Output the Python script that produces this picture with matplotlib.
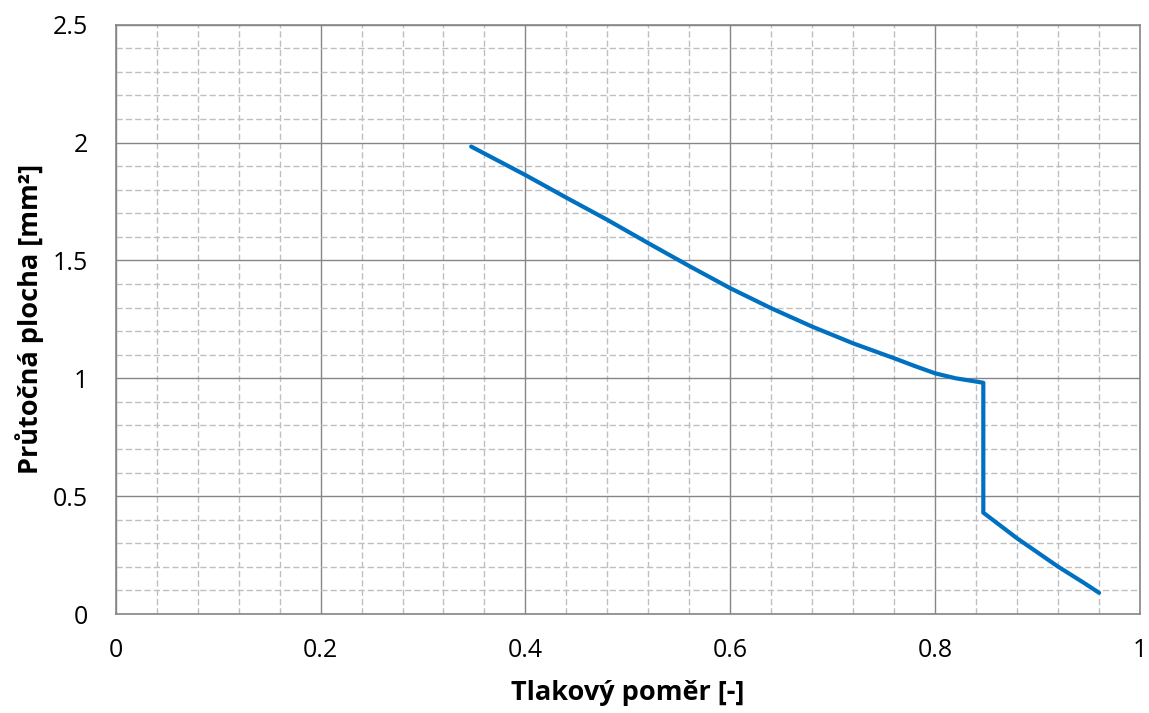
import matplotlib
matplotlib.use("Agg")
import matplotlib.pyplot as plt
from matplotlib.ticker import MultipleLocator

plt.rcParams["font.family"] = ["Open Sans", "DejaVu Sans"]
plt.rcParams["lines.scale_dashes"] = False

# Pressure ratio vs. flow area
pressure_ratio = [0.347, 0.40, 0.44, 0.48, 0.52, 0.56, 0.60, 0.64, 0.68, 0.72,
                  0.76, 0.78, 0.80, 0.82, 0.84, 0.847, 0.847, 0.88, 0.92, 0.946, 0.96]
flow_area = [1.983, 1.862, 1.766, 1.672, 1.573, 1.476, 1.382, 1.297, 1.219, 1.148,
             1.085, 1.052, 1.021, 1.000, 0.986, 0.981, 0.430, 0.321, 0.201, 0.130, 0.090]

x_label = "Tlakový poměr [-]"
y_label = "Průtočná plocha [mm²]"

fig = plt.figure(figsize=(11.49, 7.13), dpi=100)
ax = fig.add_axes([0.1007, 0.1388, 0.8915, 0.8266])

ax.plot(pressure_ratio, flow_area, color="#0070C0", lw=3.0,
        solid_capstyle="round", solid_joinstyle="round", zorder=3)

ax.set_xlim(0, 1)
ax.set_ylim(0, 2.5)
ax.xaxis.set_major_locator(MultipleLocator(0.2))
ax.xaxis.set_minor_locator(MultipleLocator(0.04))
ax.yaxis.set_major_locator(MultipleLocator(0.5))
ax.yaxis.set_minor_locator(MultipleLocator(0.1))

ax.grid(which="minor", color="#BFBFBF", lw=1.0, linestyle=(0, (4.5, 2.2)), zorder=1)
ax.grid(which="major", color="#868686", lw=1.0, linestyle="-", zorder=2)
ax.set_axisbelow(True)

for s in ax.spines.values():
    s.set_color("#868686")
    s.set_linewidth(1.2)

ax.tick_params(which="both", length=0)
ax.tick_params(axis="x", labelsize=18, pad=17)
ax.tick_params(axis="y", labelsize=18, pad=20)

def fmt(v, _):
    return f"{v:g}"
ax.xaxis.set_major_formatter(plt.FuncFormatter(fmt))
ax.yaxis.set_major_formatter(plt.FuncFormatter(fmt))

ax.set_xlabel(x_label, fontsize=19.5, fontweight="bold")
ax.set_ylabel(y_label, fontsize=19.5, fontweight="bold")
ax.xaxis.set_label_coords(0.5, -0.134)
ax.yaxis.set_label_coords(-0.0837, 0.5)
ax.xaxis.label.set_va("center")
ax.yaxis.label.set_va("center")

fig.savefig("out.png", dpi=100)
